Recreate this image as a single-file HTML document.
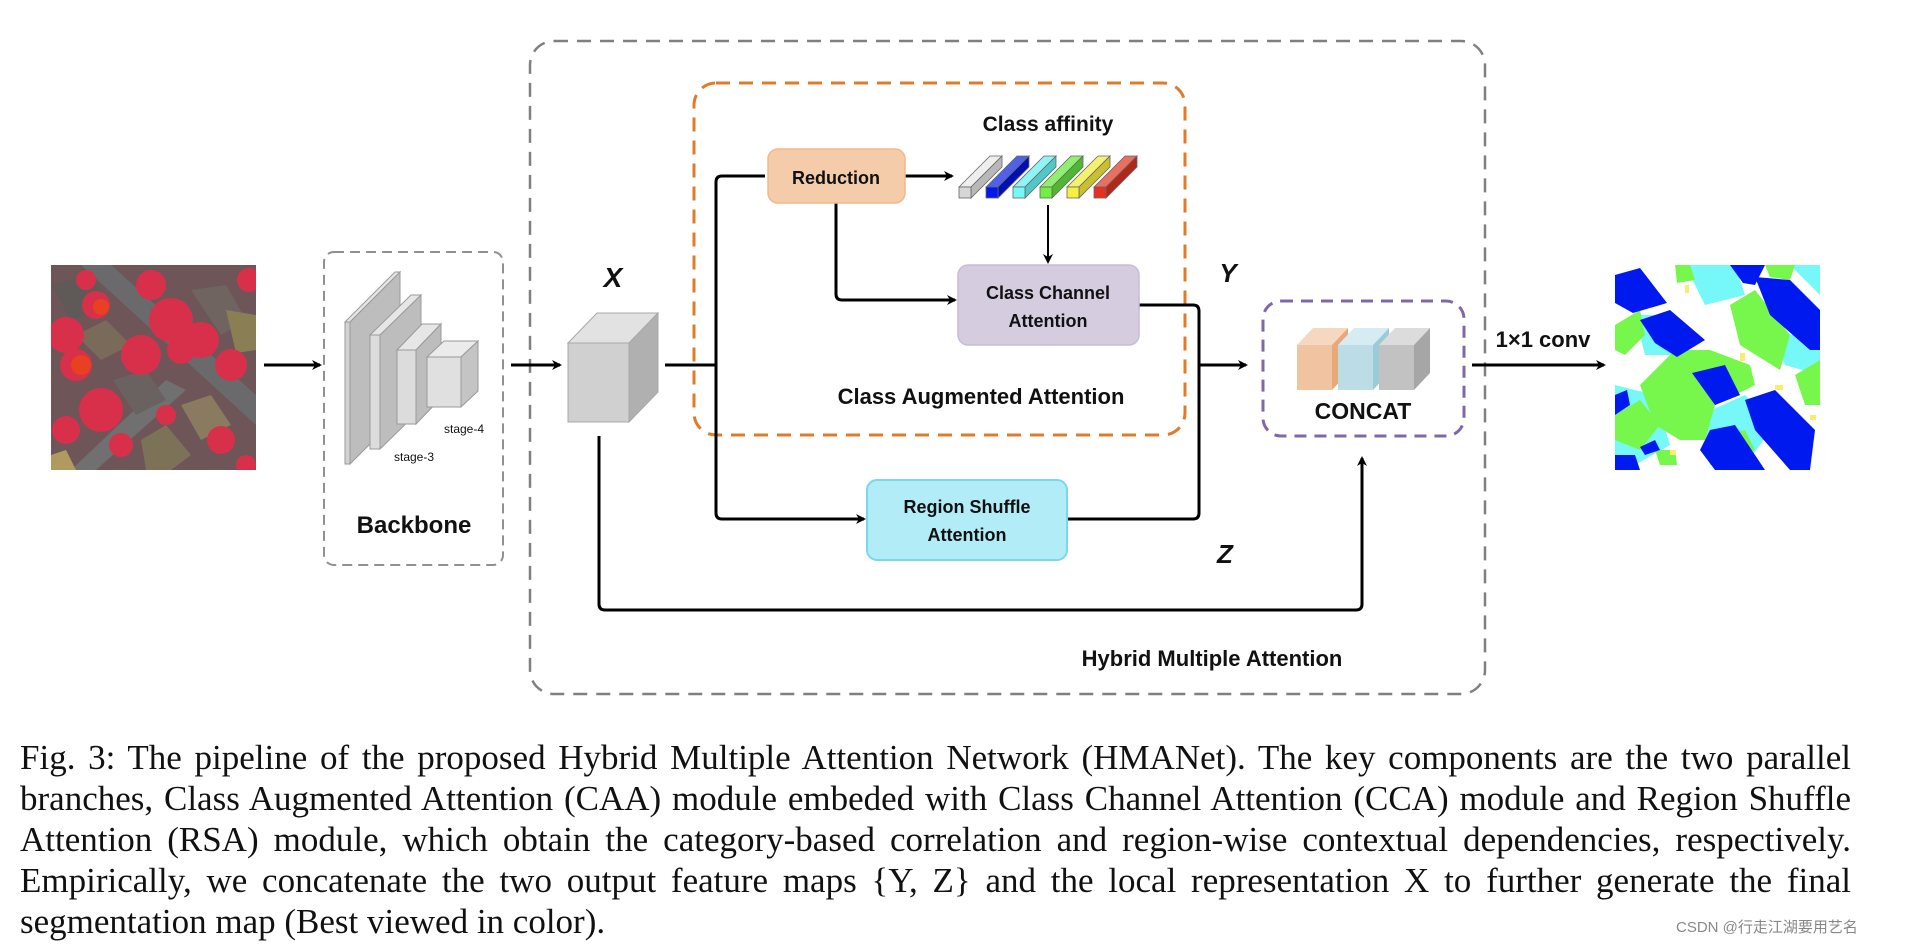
<!DOCTYPE html>
<html><head><meta charset="utf-8"><style>
body{margin:0;background:#fff;width:1920px;height:948px;overflow:hidden;position:relative}
svg{position:absolute;left:0;top:0}
.cap{position:absolute;left:20px;width:1831px;font-family:"Liberation Serif",serif;font-size:35px;color:#111;text-align:justify;text-align-last:justify;white-space:nowrap;line-height:41px}
.wm{position:absolute;left:1676px;top:916px;font-family:"Liberation Sans","Noto Sans CJK SC",sans-serif;font-size:15px;color:#888}
</style></head><body>
<svg width="1920" height="720" viewBox="0 0 1920 720" font-family="Liberation Sans, sans-serif">
<defs>
<marker id="ah" markerWidth="10" markerHeight="10" refX="8" refY="5" orient="auto" markerUnits="userSpaceOnUse"><path d="M0,0 L10,5 L0,10 L3,5z" fill="#000"/></marker>
<clipPath id="c1"><rect x="51" y="265" width="205" height="205"/></clipPath>
<clipPath id="c2"><rect x="1615" y="265" width="205" height="205"/></clipPath>
</defs>
<g clip-path="url(#c1)">
<rect x="51" y="265" width="205" height="205" fill="#6e5558"/>
<g transform="translate(51,265)">
<path d="M30,0 L60,0 L205,130 L205,160 Z" fill="#6a6a6c"/>
<path d="M20,205 L115,115 L135,125 L45,205Z" fill="#707070"/>
<polygon points="0,20 40,10 60,40 20,55" fill="#5f5a58"/>
<polygon points="25,70 55,55 80,80 50,95" fill="#7a6a5a"/>
<polygon points="140,25 175,20 195,55 170,70" fill="#6f6460"/>
<polygon points="175,45 205,50 205,85 185,88" fill="#8a7e55"/>
<polygon points="62,115 95,105 115,135 85,150" fill="#6a6260"/>
<polygon points="130,140 160,130 180,160 150,175" fill="#8a7a60"/>
<polygon points="90,175 115,160 140,190 120,205 95,205" fill="#7c7258"/>
<polygon points="0,190 15,185 25,205 0,205" fill="#b09a60"/>
<g fill="#d8304a">
<circle cx="15" cy="70" r="18"/><circle cx="45" cy="40" r="14"/><circle cx="25" cy="100" r="16"/>
<circle cx="90" cy="90" r="20"/><circle cx="120" cy="55" r="22"/><circle cx="150" cy="75" r="18"/>
<circle cx="100" cy="20" r="15"/><circle cx="180" cy="100" r="16"/><circle cx="50" cy="145" r="22"/>
<circle cx="15" cy="165" r="14"/><circle cx="115" cy="150" r="10"/><circle cx="170" cy="175" r="14"/>
<circle cx="195" cy="200" r="10"/><circle cx="70" cy="180" r="12"/><circle cx="130" cy="85" r="14"/>
<circle cx="35" cy="15" r="10"/><circle cx="198" cy="15" r="12"/></g>
<circle cx="30" cy="100" r="10" fill="#e84020"/><circle cx="50" cy="42" r="8" fill="#e84020"/>
</g></g>
<g clip-path="url(#c2)">
<rect x="1615" y="265" width="205" height="205" fill="#fff"/>
<g transform="translate(1615,265)">
<g fill="#76f8f8">
<polygon points="70,0 120,0 130,30 90,40"/><polygon points="150,60 205,80 205,110 170,100"/>
<polygon points="0,120 40,130 55,180 20,200 0,190"/><polygon points="85,150 130,130 160,160 130,200 95,200"/>
<polygon points="175,0 205,0 205,30"/><polygon points="20,50 60,50 70,90 30,90"/>
</g>
<g fill="#77f74b">
<polygon points="25,120 60,85 95,85 135,100 140,120 100,140 90,175 65,175 40,160"/>
<polygon points="115,40 140,25 175,70 165,105 125,80"/>
<polygon points="0,60 25,45 30,70 10,90 0,85"/>
<polygon points="60,0 75,0 80,15 62,18"/>
<polygon points="0,150 25,135 45,160 25,185 0,175"/>
<polygon points="180,110 205,95 205,140 190,140"/>
<polygon points="110,170 130,165 140,185 120,190"/>
<polygon points="150,0 180,0 175,15 155,12"/>
<polygon points="40,185 60,185 62,200 45,200"/>
</g>
<g fill="#0019ee">
<polygon points="0,10 25,3 52,38 18,48 0,38"/>
<polygon points="25,55 55,45 90,75 62,92 40,78"/>
<polygon points="140,12 175,15 205,45 205,85 195,85 155,50"/>
<polygon points="115,0 150,0 140,20 128,18"/>
<polygon points="77,108 110,100 125,130 100,140"/>
<polygon points="130,135 160,125 200,165 195,205 175,205 140,165"/>
<polygon points="95,165 120,160 150,205 100,205 85,185"/>
<polygon points="0,130 12,125 15,140 0,150"/><polygon points="0,190 20,190 25,205 0,205"/>
<polygon points="25,182 40,175 45,185 30,190"/>
</g>
<g fill="#f8ee6a"><rect x="70" y="20" width="4" height="8"/><rect x="125" y="88" width="5" height="8"/><rect x="160" y="120" width="8" height="5"/><rect x="195" y="150" width="6" height="5"/><rect x="55" y="185" width="6" height="5"/></g>
</g></g>

<rect x="530" y="41" width="955" height="653" rx="24" fill="none" stroke="#808080" stroke-width="2.5" stroke-dasharray="14 9"/>
<rect x="324" y="252" width="179" height="313" rx="10" fill="none" stroke="#909090" stroke-width="2" stroke-dasharray="10 6"/>
<rect x="694" y="83" width="491" height="352" rx="22" fill="none" stroke="#e07b2a" stroke-width="3" stroke-dasharray="14 9"/>
<rect x="1263" y="301" width="201" height="135" rx="18" fill="none" stroke="#8068a8" stroke-width="3" stroke-dasharray="12 8"/>

<g stroke="#9a9a9a" stroke-width="1">
<polygon points="345,322 395,272 400,272 350,322" fill="#e6e6e6"/><polygon points="350,322 400,272 400,414 350,464" fill="#bdbdbd"/><rect x="345" y="322" width="5" height="142" fill="#d2d2d2"/>
<polygon points="370,335 411,295 421,295 380,335" fill="#e6e6e6"/><polygon points="380,335 421,295 421,409 380,449" fill="#bdbdbd"/><rect x="370" y="335" width="10" height="114" fill="#dcdcdc"/>
<polygon points="397,350 422,324 441,324 416,350" fill="#e6e6e6"/><polygon points="416,350 441,324 441,398 416,424" fill="#bdbdbd"/><rect x="397" y="350" width="19" height="74" fill="#dcdcdc"/>
<polygon points="427,357 444,341 478,341 461,357" fill="#ebebeb"/><polygon points="461,357 478,341 478,391 461,407" fill="#c4c4c4"/><rect x="427" y="357" width="34" height="50" fill="#e0e0e0"/>
</g>
<text x="444" y="433" font-size="12" fill="#111">stage-4</text>
<text x="394" y="461" font-size="12" fill="#111">stage-3</text>
<text x="414" y="533" font-size="24" font-weight="bold" text-anchor="middle" fill="#111">Backbone</text>

<g stroke="#a8a8a8" stroke-width="1">
<polygon points="568,343 597,313 658,313 629,343" fill="#e2e2e2"/>
<polygon points="629,343 658,313 658,392 629,422" fill="#b0b0b0"/>
<rect x="568" y="343" width="61" height="79" fill="#d0d0d0"/>
</g>
<text x="613" y="287" font-size="28" font-weight="bold" font-style="italic" text-anchor="middle" fill="#111">X</text>

<g stroke="#000" stroke-width="3" fill="none">
<line x1="264" y1="365" x2="320" y2="365" marker-end="url(#ah)"/>
<line x1="511" y1="365" x2="560" y2="365" marker-end="url(#ah)"/>
<line x1="665" y1="365" x2="716" y2="365"/>
<path d="M765,176 L722,176 Q716,176 716,182 L716,513 Q716,519 722,519 L864,519" marker-end="url(#ah)"/>
<line x1="905" y1="176" x2="952" y2="176" marker-end="url(#ah)"/>
<path d="M836,203 L836,294 Q836,300 842,300 L955,300" marker-end="url(#ah)"/>
<path d="M1139,305 L1193,305 Q1199,305 1199,311 L1199,513 Q1199,519 1193,519 L1067,519"/>
<line x1="1199" y1="365" x2="1246" y2="365" marker-end="url(#ah)"/>
<path d="M599,436 L599,604 Q599,610 605,610 L1356,610 Q1362,610 1362,604 L1362,458" marker-end="url(#ah)"/>
<line x1="1472" y1="365" x2="1604" y2="365" marker-end="url(#ah)"/>
</g>
<line x1="1048" y1="205" x2="1048" y2="262" stroke="#000" stroke-width="2" marker-end="url(#ah)"/>

<rect x="768" y="149" width="137" height="54" rx="10" fill="#f5ccaa" stroke="#f0b98a" stroke-width="1.5"/>
<text x="836" y="184" font-size="18" font-weight="bold" text-anchor="middle" fill="#111">Reduction</text>
<rect x="958" y="265" width="181" height="80" rx="10" fill="#d5cce0" stroke="#c8bcd8" stroke-width="1.5"/>
<text x="1048" y="299" font-size="18" font-weight="bold" text-anchor="middle" fill="#111">Class Channel</text>
<text x="1048" y="327" font-size="18" font-weight="bold" text-anchor="middle" fill="#111">Attention</text>
<rect x="867" y="480" width="200" height="80" rx="10" fill="#b2ecf6" stroke="#78d8ee" stroke-width="2"/>
<text x="967" y="513" font-size="18" font-weight="bold" text-anchor="middle" fill="#111">Region Shuffle</text>
<text x="967" y="541" font-size="18" font-weight="bold" text-anchor="middle" fill="#111">Attention</text>

<text x="1048" y="131" font-size="21" font-weight="bold" text-anchor="middle" fill="#111">Class affinity</text>
<text x="981" y="404" font-size="22" font-weight="bold" text-anchor="middle" fill="#111">Class Augmented Attention</text>
<text x="1228" y="282" font-size="26" font-weight="bold" font-style="italic" text-anchor="middle" fill="#111">Y</text>
<text x="1225" y="563" font-size="26" font-weight="bold" font-style="italic" text-anchor="middle" fill="#111">Z</text>
<text x="1212" y="666" font-size="22" font-weight="bold" text-anchor="middle" fill="#111">Hybrid Multiple Attention</text>
<text x="1363" y="419" font-size="23" font-weight="bold" text-anchor="middle" fill="#111">CONCAT</text>
<text x="1543" y="347" font-size="22" font-weight="bold" text-anchor="middle" fill="#111">1×1 conv</text>

<g stroke="#666" stroke-width="0.8">
<g><polygon points="959,187 990,156 1002,156 971,187" fill="#eeeeee"/><polygon points="971,187 1002,156 1002,167 971,198" fill="#b8b8b8"/><rect x="959" y="187" width="12" height="11" fill="#d6d6d6"/></g>
<g><polygon points="986,187 1017,156 1029,156 998,187" fill="#5060e8"/><polygon points="998,187 1029,156 1029,167 998,198" fill="#0010b0"/><rect x="986" y="187" width="12" height="11" fill="#0018ee"/></g>
<g><polygon points="1013,187 1044,156 1056,156 1025,187" fill="#90f4f4"/><polygon points="1025,187 1056,156 1056,167 1025,198" fill="#50c8c8"/><rect x="1013" y="187" width="12" height="11" fill="#76f8f8"/></g>
<g><polygon points="1040,187 1071,156 1083,156 1052,187" fill="#90ee70"/><polygon points="1052,187 1083,156 1083,167 1052,198" fill="#50b830"/><rect x="1040" y="187" width="12" height="11" fill="#70f040"/></g>
<g><polygon points="1067,187 1098,156 1110,156 1079,187" fill="#f4f070"/><polygon points="1079,187 1110,156 1110,167 1079,198" fill="#c8c030"/><rect x="1067" y="187" width="12" height="11" fill="#f8f040"/></g>
<g><polygon points="1094,187 1125,156 1137,156 1106,187" fill="#e87060"/><polygon points="1106,187 1137,156 1137,167 1106,198" fill="#b02818"/><rect x="1094" y="187" width="12" height="11" fill="#e83020"/></g>
</g>

<g>
<polygon points="1297,345 1313,328 1348,328 1332,345" fill="#f5d8c0"/><polygon points="1332,345 1348,328 1348,373 1332,390" fill="#e8a878"/><rect x="1297" y="345" width="35" height="45" fill="#f0c4a0"/>
<polygon points="1338,345 1354,328 1389,328 1373,345" fill="#d6ecf2"/><polygon points="1373,345 1389,328 1389,373 1373,390" fill="#9ccbd8"/><rect x="1338" y="345" width="35" height="45" fill="#bcdce6"/>
<polygon points="1379,345 1395,328 1430,328 1414,345" fill="#dcdcdc"/><polygon points="1414,345 1430,328 1430,373 1414,390" fill="#a6a6a6"/><rect x="1379" y="345" width="35" height="45" fill="#c2c2c2"/>
</g>
</svg>
<div class="cap" style="top:737px">Fig. 3: The pipeline of the proposed Hybrid Multiple Attention Network (HMANet). The key components are the two parallel</div>
<div class="cap" style="top:778px">branches, Class Augmented Attention (CAA) module embeded with Class Channel Attention (CCA) module and Region Shuffle</div>
<div class="cap" style="top:819px">Attention (RSA) module, which obtain the category-based correlation and region-wise contextual dependencies, respectively.</div>
<div class="cap" style="top:860px">Empirically, we concatenate the two output feature maps {Y, Z} and the local representation X to further generate the final</div>
<div class="cap" style="top:901px;text-align-last:left;width:auto">segmentation map (Best viewed in color).</div>
<div class="wm">CSDN @行走江湖要用艺名</div>
</body></html>
